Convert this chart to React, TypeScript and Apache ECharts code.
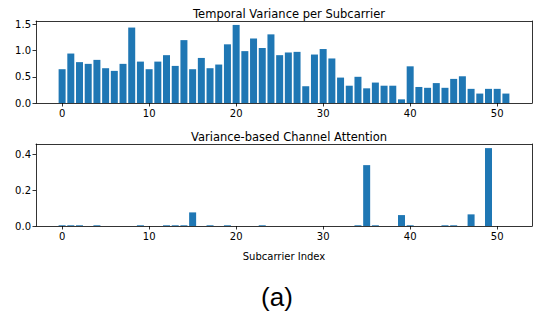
import React, { useEffect, useRef } from "react";
import * as echarts from "echarts";

const subcarriers: number[] = Array.from({ length: 52 }, (_, i) => i);

const temporalVariance: number[] = [
  0.645, 0.944, 0.78, 0.747, 0.823, 0.664, 0.613, 0.747, 1.44, 0.79,
  0.645, 0.79, 0.913, 0.708, 1.2, 0.645, 0.86, 0.664, 0.734, 1.12,
  1.49, 0.99, 1.23, 1.05, 1.31, 0.913, 0.964, 0.976, 0.32, 0.925,
  1.03, 0.85, 0.485, 0.33, 0.5, 0.28, 0.39, 0.33, 0.33, 0.07,
  0.7, 0.306, 0.29, 0.38, 0.29, 0.46, 0.51, 0.27, 0.18, 0.27,
  0.27, 0.18,
];

const attention: number[] = [
  0.004, 0.004, 0.004, 0, 0.004, 0, 0, 0, 0, 0.004,
  0, 0, 0.004, 0.004, 0.004, 0.076, 0, 0.004, 0, 0.004,
  0, 0, 0, 0.004, 0, 0, 0, 0, 0, 0,
  0, 0, 0, 0, 0.004, 0.34, 0.004, 0, 0, 0.061,
  0.004, 0, 0, 0, 0.004, 0.004, 0, 0.065, 0, 0.435,
  0, 0,
];

const xTicks: number[] = [0, 10, 20, 30, 40, 50];
const topYTicks: number[] = [0, 0.5, 1.0, 1.5];
const bottomYTicks: number[] = [0, 0.2, 0.4];

const topTitle = "Temporal Variance per Subcarrier";
const bottomTitle = "Variance-based Channel Attention";
const xLabel = "Subcarrier Index";
const figLabel = "(a)";

const FONT = "DejaVu Sans";
const BAR_COLOR = "#1f77b4";
const X_MIN = -3.0;
const X_MAX = 54.0;

export default function App() {
  const ref = useRef<HTMLDivElement>(null);
  useEffect(() => {
    document.body.style.margin = "0";
    if (!ref.current) return;
    const chart = echarts.init(ref.current, undefined, { renderer: "svg" });
    const lineStyle = { color: "#000", width: 0.8 };
    const xAxisMain = (gridIndex: number, showName: boolean) => ({
      type: "value" as const,
      gridIndex,
      position: "bottom" as const,
      min: X_MIN,
      max: X_MAX,
      splitLine: { show: false },
      axisLine: { show: true, onZero: false, lineStyle },
      axisTick: { show: true, length: 3.5, lineStyle, customValues: xTicks },
      axisLabel: {
        show: true,
        customValues: xTicks,
        fontFamily: FONT,
        fontSize: 10,
        color: "#000",
        margin: 5,
        formatter: (v: number) => String(v),
      },
      ...(showName
        ? {
            name: xLabel,
            nameLocation: "middle" as const,
            nameGap: 25,
            nameTextStyle: { fontFamily: FONT, fontSize: 10, color: "#000" },
          }
        : {}),
    });
    const xAxisTop = (gridIndex: number) => ({
      type: "value" as const,
      gridIndex,
      position: "top" as const,
      min: X_MIN,
      max: X_MAX,
      splitLine: { show: false },
      axisLine: { show: true, onZero: false, lineStyle },
      axisTick: { show: false },
      axisLabel: { show: false },
    });
    const yAxisMain = (gridIndex: number, max: number, ticks: number[]) => ({
      type: "value" as const,
      gridIndex,
      position: "left" as const,
      min: 0,
      max,
      splitLine: { show: false },
      axisLine: { show: true, onZero: false, lineStyle },
      axisTick: { show: true, length: 3.5, lineStyle, customValues: ticks },
      axisLabel: {
        show: true,
        customValues: ticks,
        fontFamily: FONT,
        fontSize: 10,
        color: "#000",
        margin: 5,
        formatter: (v: number) => v.toFixed(1),
      },
    });
    const yAxisRight = (gridIndex: number, max: number) => ({
      type: "value" as const,
      gridIndex,
      position: "right" as const,
      min: 0,
      max,
      splitLine: { show: false },
      axisLine: { show: true, onZero: false, lineStyle },
      axisTick: { show: false },
      axisLabel: { show: false },
    });
    chart.setOption({
      animation: false,
      backgroundColor: "#fff",
      title: [
        {
          text: topTitle,
          left: 284,
          top: 3,
          textAlign: "center",
          textStyle: { fontFamily: FONT, fontSize: 11.5, fontWeight: "normal", color: "#000" },
        },
        {
          text: bottomTitle,
          left: 284,
          top: 126,
          textAlign: "center",
          textStyle: { fontFamily: FONT, fontSize: 11.5, fontWeight: "normal", color: "#000" },
        },
        {
          text: figLabel,
          left: 272,
          top: 279,
          textAlign: "center",
          textStyle: { fontFamily: "Liberation Sans", fontSize: 26, fontWeight: "normal", color: "#000" },
        },
      ],
      grid: [
        { left: 36, top: 21, width: 496, height: 82 },
        { left: 36, top: 144, width: 496, height: 82 },
      ],
      xAxis: [xAxisMain(0, false), xAxisMain(1, true), xAxisTop(0), xAxisTop(1)],
      yAxis: [
        yAxisMain(0, 1.565, topYTicks),
        yAxisMain(1, 0.458, bottomYTicks),
        yAxisRight(0, 1.565),
        yAxisRight(1, 0.458),
      ],
      series: [
        {
          type: "bar",
          xAxisIndex: 0,
          yAxisIndex: 0,
          barWidth: 7,
          itemStyle: { color: BAR_COLOR },
          data: subcarriers.map((x, i) => [x, temporalVariance[i]]),
        },
        {
          type: "bar",
          xAxisIndex: 1,
          yAxisIndex: 1,
          barWidth: 7,
          itemStyle: { color: BAR_COLOR },
          data: subcarriers.map((x, i) => [x, attention[i]]),
        },
      ],
    });
    return () => chart.dispose();
  }, []);
  return (
    <div
      ref={ref}
      style={{ position: "fixed", left: 0, top: 0, width: 536, height: 312 }}
    />
  );
}
